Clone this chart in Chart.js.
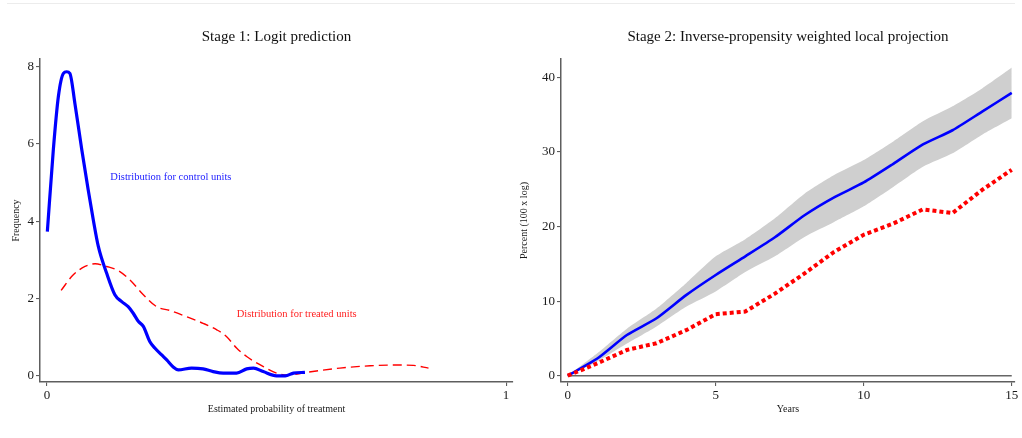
<!DOCTYPE html>
<html>
<head>
<meta charset="utf-8">
<title>Stage 1 / Stage 2</title>
<script src="https://cdn.jsdelivr.net/npm/chart.js@4.4.1/dist/chart.umd.min.js"></script>
<style>
  html, body { margin: 0; padding: 0; background: #fff; }
  body { width: 1022px; height: 438px; position: relative; overflow: hidden; }
  .topline { position: absolute; left: 7px; top: 3px; width: 1008px; border-top: 1px solid #ececec; }
  #wrapL { position: absolute; left: 0; top: 0; }
  #wrapR { position: absolute; left: 508px; top: 0; }
</style>
</head>
<body>
<div class="topline"></div>
<div id="wrapL"><canvas id="stage1" width="516" height="438"></canvas></div>
<div id="wrapR"><canvas id="stage2" width="514" height="438"></canvas></div>

<script>
// ── Stage 1: densities of the estimated propensity score ──
const controlX = [0.001, 0.014, 0.025, 0.036, 0.043, 0.050, 0.061, 0.076, 0.090, 0.101, 0.112, 0.130,
                  0.148, 0.163, 0.177, 0.188, 0.199, 0.210, 0.224, 0.235, 0.250, 0.261, 0.275, 0.286,
                  0.315, 0.340, 0.362, 0.384, 0.413, 0.435, 0.450, 0.471, 0.500, 0.519, 0.537, 0.562];
const controlY = [3.73, 5.85, 7.23, 7.83, 7.87, 7.83, 7.05, 5.85, 4.81, 4.04, 3.35, 2.66,
                  2.10, 1.92, 1.79, 1.62, 1.41, 1.28, 0.89, 0.72, 0.54, 0.41, 0.23, 0.155,
                  0.20, 0.18, 0.11, 0.07, 0.07, 0.18, 0.20, 0.11, 0.00, 0.00, 0.07, 0.09];

const treatedX = [0.031, 0.057, 0.083, 0.105, 0.130, 0.156, 0.181, 0.210, 0.239, 0.268, 0.304, 0.340,
                  0.370, 0.391, 0.413, 0.435, 0.471, 0.500, 0.522, 0.566, 0.638, 0.704, 0.762, 0.798, 0.831];
const treatedY = [2.21, 2.61, 2.83, 2.90, 2.83, 2.72, 2.48, 2.10, 1.79, 1.69, 1.53, 1.36,
                  1.19, 1.02, 0.72, 0.50, 0.24, 0.07, 0.02, 0.09, 0.20, 0.26, 0.28, 0.27, 0.20];

const stage1Ticks = { x: [0, 1], y: [0, 2, 4, 6, 8] };

// ── Stage 2: IPW local projection ─────────────────────────
const years    = [0, 1, 2, 3, 4, 5, 6, 7, 8, 9, 10, 11, 12, 13, 14, 15];
const ipwMean  = [0, 2.3, 5.45, 7.7, 10.8, 13.5, 16.0, 18.55, 21.5, 23.9, 25.9, 28.4, 31.0, 32.9, 35.4, 37.9];
const ipwUpper = [0, 3.0, 6.3, 9.0, 12.4, 16.0, 18.3, 21.1, 24.4, 26.9, 28.9, 31.4, 34.1, 36.1, 38.5, 41.3];
const ipwLower = [0, 1.9, 4.3, 6.6, 9.25, 11.3, 13.9, 16.0, 18.6, 20.6, 22.7, 25.3, 28.0, 29.8, 32.3, 34.5];
const olsMean  = [0, 1.65, 3.45, 4.35, 6.1, 8.25, 8.6, 11.0, 13.7, 16.6, 18.9, 20.4, 22.3, 21.8, 24.9, 27.6];

const stage2Ticks = { x: [0, 5, 10, 15], y: [0, 10, 20, 30, 40] };

const SERIF = '"Liberation Serif", "DejaVu Serif", serif';
const AXIS  = '#5e5e5e';
const BLUE  = '#0000ff';
const RED   = '#ff0000';

const pts = (xs, ys) => xs.map((x, i) => ({ x, y: ys[i] }));

// text labels placed in data coordinates
const notePlugin = {
  id: 'notes',
  afterDatasetsDraw(chart, args, opts) {
    const { ctx, scales } = chart;
    (opts.items || []).forEach(n => {
      ctx.save();
      ctx.font = `${n.size}px ${SERIF}`;
      ctx.fillStyle = n.color;
      ctx.textAlign = 'center';
      ctx.textBaseline = 'middle';
      ctx.fillText(n.text, scales.x.getPixelForValue(n.x), scales.y.getPixelForValue(n.y));
      ctx.restore();
    });
  },
};

function axis(ticks, min, max, size, title, titlePad) {
  return {
    type: 'linear', min, max,
    afterBuildTicks: s => { s.ticks = ticks.map(v => ({ value: v })); },
    afterFit: s => {
      if (s.isHorizontal()) s.height = size; else s.width = size;
      s.paddingLeft = s.paddingRight = s.paddingTop = s.paddingBottom = 0;
    },
    border: { display: true, color: AXIS, width: 1.5 },
    grid: { drawOnChartArea: false, drawTicks: true, tickLength: 4, color: AXIS, lineWidth: 1.1 },
    ticks: { color: '#1a1a1a', font: { family: SERIF, size: 13 }, padding: 2 },
    title: { display: true, text: title, color: '#1a1a1a', font: { family: SERIF, size: 10 }, padding: titlePad },
  };
}

function titleOpts(text) {
  return {
    display: true, text, fullSize: false, color: '#111',
    font: { family: SERIF, size: 15, weight: 'normal', lineHeight: 1.2 },
    padding: { top: 28, bottom: 13 },
  };
}

// ── Stage 1 chart ─────────────────────────────────────────
new Chart(document.getElementById('stage1'), {
  type: 'line',
  data: {
    datasets: [
      { label: 'Control', data: pts(controlX, controlY), borderColor: BLUE, borderWidth: 3.2,
        cubicInterpolationMode: 'monotone', pointRadius: 0, order: 0 },
      { label: 'Treated', data: pts(treatedX, treatedY), borderColor: RED, borderWidth: 1.4,
        borderDash: [9, 5], cubicInterpolationMode: 'monotone', pointRadius: 0, order: 1 },
    ],
  },
  options: {
    responsive: false, animation: false,
    layout: { padding: { left: 0, right: 3, top: 0, bottom: 0 } },
    plugins: {
      legend: { display: false }, tooltip: { enabled: false },
      title: titleOpts('Stage 1: Logit prediction'),
      notes: { items: [
        { text: 'Distribution for control units', x: 0.27, y: 5.13, color: '#1a1aff', size: 10.5 },
        { text: 'Distribution for treated units', x: 0.544, y: 1.60, color: '#ff2020', size: 10.5 },
      ] },
    },
    scales: {
      x: axis(stage1Ticks.x, -0.015, 1.015, 56, 'Estimated probability of treatment', { top: 0, bottom: 23 }),
      y: axis(stage1Ticks.y, -0.16, 8.2, 40, 'Frequency', { top: 10, bottom: 0 }),
    },
  },
  plugins: [notePlugin],
});

// ── Stage 2 chart ─────────────────────────────────────────
new Chart(document.getElementById('stage2'), {
  type: 'line',
  data: {
    datasets: [
      { label: 'OLS', data: pts(years, olsMean), borderColor: RED, borderWidth: 4,
        borderDash: [4, 3], borderCapStyle: 'butt', tension: 0, pointRadius: 0, order: 0 },
      { label: 'IPW', data: pts(years, ipwMean), borderColor: BLUE, borderWidth: 2.6,
        tension: 0.2, pointRadius: 0, order: 1 },
      { label: 'Zero', data: [{ x: years[0], y: 0 }, { x: years[years.length - 1], y: 0 }],
        borderColor: '#666', borderWidth: 1.5, pointRadius: 0, order: 2 },
      { label: 'Upper', data: pts(years, ipwUpper), borderColor: 'rgba(0,0,0,0)', borderWidth: 0,
        backgroundColor: '#cfcfcf', fill: '+1', tension: 0.2, pointRadius: 0, order: 3 },
      { label: 'Lower', data: pts(years, ipwLower), borderColor: 'rgba(0,0,0,0)', borderWidth: 0,
        tension: 0.2, pointRadius: 0, order: 4 },
    ],
  },
  options: {
    responsive: false, animation: false,
    layout: { padding: { left: 0, right: 7, top: 0, bottom: 0 } },
    plugins: {
      legend: { display: false }, tooltip: { enabled: false },
      title: titleOpts('Stage 2: Inverse-propensity weighted local projection'),
    },
    scales: {
      x: axis(stage2Ticks.x, -0.226, 15.11, 56, 'Years', { top: 0, bottom: 23 }),
      y: axis(stage2Ticks.y, -0.845, 42.45, 53, 'Percent (100 x log)', { top: 10, bottom: 0 }),
    },
  },
});
</script>
</body>
</html>
